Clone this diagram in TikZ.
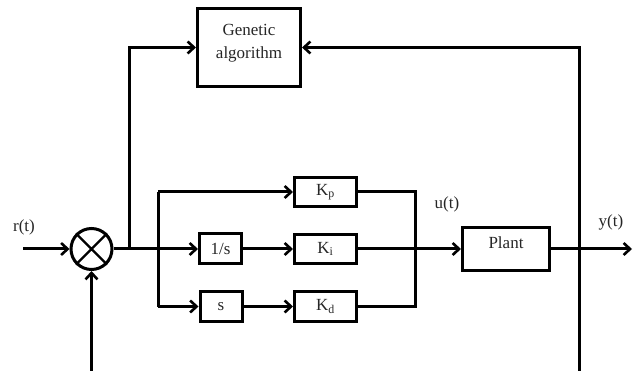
\documentclass[tikz,border=0pt]{standalone}
\usepackage{fontspec}
\setmainfont{Liberation Serif}
\usetikzlibrary{arrows.meta}
\begin{document}
\begin{tikzpicture}[x=1pt,y=-1pt,
  wire/.style={line width=3pt},
  flow/.style={wire,-{Straight Barb[length=6.5pt,width=12pt,line width=2.6pt]}},
  txt/.style={text=black!85,font=\fontsize{17}{23}\selectfont},
  block/.style={draw,line width=3pt,rectangle,inner sep=0pt,txt},
  gain/.style={block,minimum width=62pt,minimum height=29pt},
  sumnode/.style={draw,line width=3pt,circle,inner sep=0pt,minimum size=41pt}]
\useasboundingbox (0,0) rectangle (637,371);

% blocks
\node[block,minimum width=103pt,minimum height=78pt,
  label={[txt,align=center,anchor=north,yshift=-14pt]north:Genetic\\algorithm}]
  (ga) at (249,47.5) {};
\node[sumnode] (sum) at (91.5,249) {};
\draw[line width=2.4pt] (sum.north west) -- (sum.south east)
                        (sum.north east) -- (sum.south west);
\node[block,minimum width=42pt,minimum height=30pt] (int) at (220.5,249) {1/s};
\node[block,minimum width=42pt,minimum height=30pt] (der) at (221,306.5) {s};
\node[gain] (kp) at (325.5,192) {K\textsubscript{p}};
\node[gain] (ki) at (325.5,249) {K\textsubscript{i}};
\node[gain] (kd) at (325.5,306.5) {K\textsubscript{d}};
\node[block,minimum width=87pt,minimum height=43.5pt,text height=12pt,text depth=12pt]
  (plant) at (506,249) {Plant};

% signal labels
\node[txt] (rlab) at (24,227) {r(t)};
\node[txt] (ulab) at (447,204) {u(t)};
\node[txt] (ylab) at (611,222) {y(t)};

% branch and merge points
\coordinate (rin) at (23,249);
\coordinate (tap) at (129,249);
\coordinate (split) at (158,249);
\coordinate (merge) at (415,249);
\coordinate (yout) at (632,249);
\coordinate (fbl) at (91.5,371);
\coordinate (fbr) at (579,371);

% forward path
\draw[flow] (rin) -- (sum.west);
\draw[wire] (sum.east) -- (split);
\draw[flow] (tap) |- (ga.west);
\draw[wire] (split |- kp) -- (split |- kd);
\draw[flow] (split |- kp) -- (kp.west);
\draw[flow] (split) -- (int.west);
\draw[flow] (split |- der) -- (der.west);
\draw[flow] (int.east) -- (ki.west);
\draw[flow] (der.east) -- (kd.west);
\draw[wire] (kp.east) -| (merge |- kd) -- (kd.east);
\draw[flow] (ki.east) -- (plant.west);
\draw[flow] (plant.east) -- (yout);

% feedback paths
\draw[flow] (fbl) -- (sum.south);
\draw[flow] (fbr) |- (ga.east);
\end{tikzpicture}
\end{document}
